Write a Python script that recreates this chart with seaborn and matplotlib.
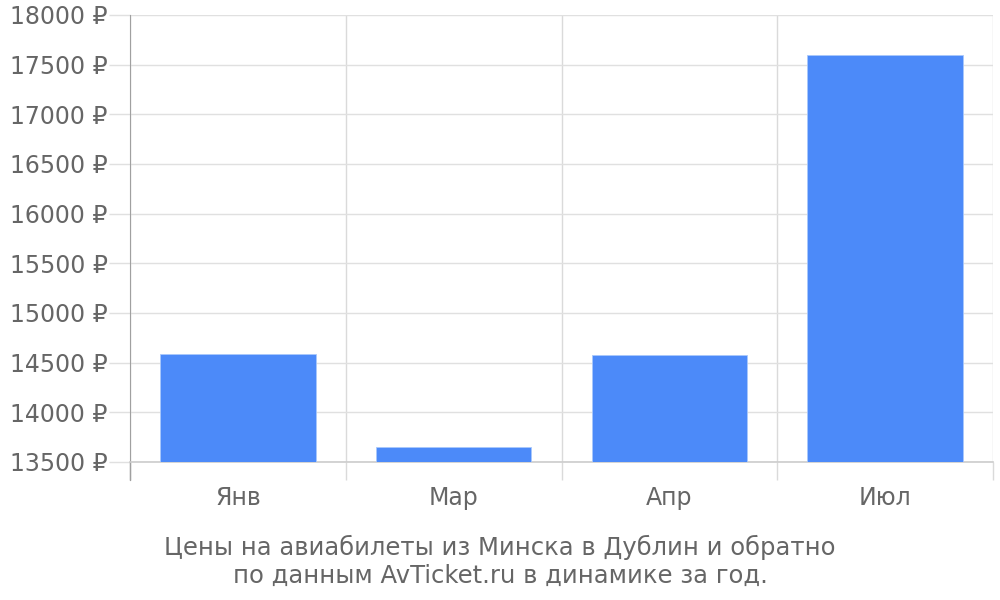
import numpy as np
import pandas as pd
import matplotlib
matplotlib.use("Agg")
import matplotlib.pyplot as plt
import seaborn as sns
from matplotlib.ticker import FixedLocator, FuncFormatter

# data
months = ["Янв", "Мар", "Апр", "Июл"]
prices = [14592, 13652, 14577, 17596]
y_ticks = list(range(13500, 18001, 500))
caption = "Цены на авиабилеты из Минска в Дублин и обратно\nпо данным AvTicket.ru в динамике за год."

df = pd.DataFrame({"month": months, "price": prices})

sns.set_style("white")
plt.rcParams["font.family"] = ["DejaVu Sans"]

TEXT = "#666666"
GRID = "#e0e0e0"

fig = plt.figure(figsize=(10, 6), dpi=100)
ax = fig.add_axes([0.13, 0.23, 0.863, 0.745])

sns.barplot(data=df, x="month", y="price", color="#4c8af9", width=0.72,
            edgecolor="#a9c8fb", linewidth=0.6, saturation=1, ax=ax, zorder=3)

ax.set_xlim(-0.5, len(months) - 0.5)
ax.set_ylim(y_ticks[0], y_ticks[-1])
ax.set_yticks(y_ticks)
ax.yaxis.set_major_formatter(FuncFormatter(lambda v, p: f"{int(v)} ₽"))

# band boundaries as vertical grid lines
ax.xaxis.set_minor_locator(FixedLocator(np.arange(-0.5, len(months), 1.0)))
ax.grid(axis="x", which="minor", color="#dadada", linewidth=1, zorder=0)
ax.grid(axis="y", which="major", color=GRID, linewidth=1, zorder=0)
ax.set_axisbelow(True)

ax.tick_params(axis="x", which="major", bottom=False, length=0, pad=17,
               labelsize=17, labelcolor=TEXT)
ax.tick_params(axis="x", which="minor", bottom=True, length=13, width=1,
               color="#dadada", direction="out")
ax.tick_params(axis="y", which="major", left=True, length=15, width=1, color=GRID,
               pad=1, labelsize=17, labelcolor=TEXT)

for side in ["top", "right"]:
    ax.spines[side].set_visible(False)
ax.spines["left"].set_color("#a0a0a0")
ax.spines["left"].set_bounds(y_ticks[0], y_ticks[-1])
ax.spines["bottom"].set_color("#cccccc")
ax.spines["bottom"].set_linewidth(1.2)
# y axis line continues below the plot like in the reference
ax.plot([-0.5, -0.5], [0, -0.04], transform=ax.get_xaxis_transform(),
        color="#a0a0a0", linewidth=1, clip_on=False)

ax.set_xlabel("")
ax.set_ylabel("")

fig.text(0.5, 0.02, caption, ha="center", va="bottom", fontsize=17.5,
         color=TEXT, linespacing=1.2)

fig.savefig("out.png", dpi=100, facecolor="white")
